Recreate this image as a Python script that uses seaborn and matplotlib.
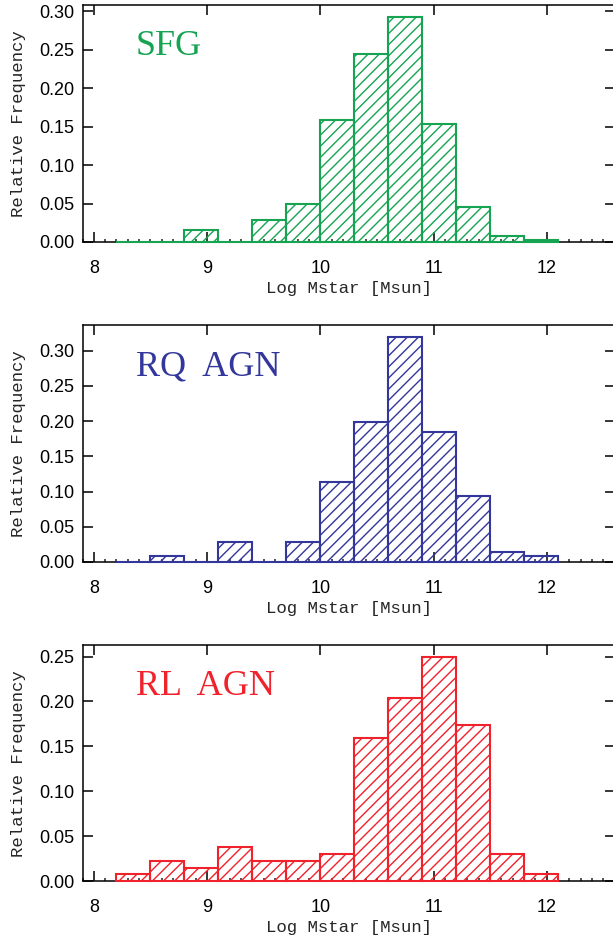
import numpy as np
import pandas as pd
import matplotlib
matplotlib.use("Agg")
import matplotlib.pyplot as plt
from matplotlib.ticker import MultipleLocator, FormatStrFormatter
import seaborn as sns

# Histogram bin edges in log stellar mass
bin_edges = [8.2, 8.5, 8.8, 9.1, 9.4, 9.7, 10.0, 10.3, 10.6, 10.9, 11.2, 11.5, 11.8, 12.1]

# Relative frequency per bin for each population
sfg_freq = [0.0, 0.0, 0.015, 0.0, 0.029, 0.050, 0.158, 0.245, 0.293, 0.153, 0.045, 0.008, 0.002]
rq_freq = [0.0, 0.008, 0.0, 0.0285, 0.0, 0.0285, 0.114, 0.199, 0.320, 0.185, 0.093, 0.014, 0.008]
rl_freq = [0.0074, 0.0227, 0.0149, 0.038, 0.0227, 0.0227, 0.0305, 0.159, 0.204, 0.250, 0.174, 0.0305, 0.0074]

panel_names = ["SFG", "RQ  AGN", "RL  AGN"]
panel_colors = ["#16A452", "#33369A", "#F0222C"]
x_ticks = [8, 9, 10, 11, 12]

sns.set_style("ticks")
plt.rcParams["font.family"] = ["Liberation Sans", "DejaVu Sans"]
plt.rcParams["hatch.linewidth"] = 1.0

W, H = 613, 941
fig = plt.figure(figsize=(W / 100, H / 100), dpi=100)

# axes boxes in pixels: left, top, right, bottom
boxes = [(82.5, 5.3, 614.7, 242.0),
         (82.5, 325.3, 614.7, 562.0),
         (82.5, 645.3, 614.7, 881.0)]

centers = [(a + b) / 2 for a, b in zip(bin_edges[:-1], bin_edges[1:])]
label_font = ["Liberation Mono", "DejaVu Sans Mono"]

for name, color, freq, (l, t, r, b) in zip(panel_names, panel_colors,
                                           [sfg_freq, rq_freq, rl_freq], boxes):
    ax = fig.add_axes([l / W, 1 - b / H, (r - l) / W, (b - t) / H])
    df = pd.DataFrame({"mass": centers, "freq": freq})
    sns.histplot(data=df, x="mass", weights="freq", bins=bin_edges,
                 stat="count", ax=ax, color=color)
    for p in ax.patches:
        p.set_facecolor("none")
        p.set_edgecolor(color)
        p.set_linewidth(1.5)
        p.set_hatch("///")
        if hasattr(p, "set_hatchcolor"):
            p.set_hatchcolor(color)
        p.set_clip_on(False)
        p.set_zorder(3)

    ax.set_xlim(7.9, 12.6)
    ax.set_ylim(0, max(freq) * 1.05)
    ax.xaxis.set_major_locator(plt.FixedLocator(x_ticks))
    ax.xaxis.set_minor_locator(MultipleLocator(0.1))
    ax.yaxis.set_major_locator(MultipleLocator(0.05))
    ax.yaxis.set_major_formatter(FormatStrFormatter("%.2f"))
    ax.set_xticklabels([str(v) for v in x_ticks])

    for s in ax.spines.values():
        s.set_linewidth(1.1)
        s.set_color("black")
        s.set_visible(True)

    ax.tick_params(axis="both", which="major", direction="in",
                   top=True, right=True, colors="black")
    ax.tick_params(axis="x", which="major", length=7.5, width=1.1,
                   labelsize=13, pad=13)
    ax.tick_params(axis="x", which="minor", direction="in", bottom=True,
                   top=False, length=2.5, width=1.1)
    ax.tick_params(axis="y", which="major", length=7.5, width=1.1,
                   labelsize=13, pad=6)
    ax.tick_params(axis="y", which="minor", left=False, right=False)

    ax.set_xlabel("Log Mstar [Msun]", family=label_font, fontsize=12.5)
    ax.set_ylabel("Relative Frequency", family=label_font, fontsize=12.5)
    ax.xaxis.set_label_coords(0.5, -0.165)
    ax.yaxis.set_label_coords(-0.106, 0.5)

    ax.text(0.1005, 0.79, name, transform=ax.transAxes, color=color,
            family=["Liberation Serif", "DejaVu Serif"], fontsize=26,
            ha="left", va="baseline")

fig.savefig("out.png", dpi=100)
